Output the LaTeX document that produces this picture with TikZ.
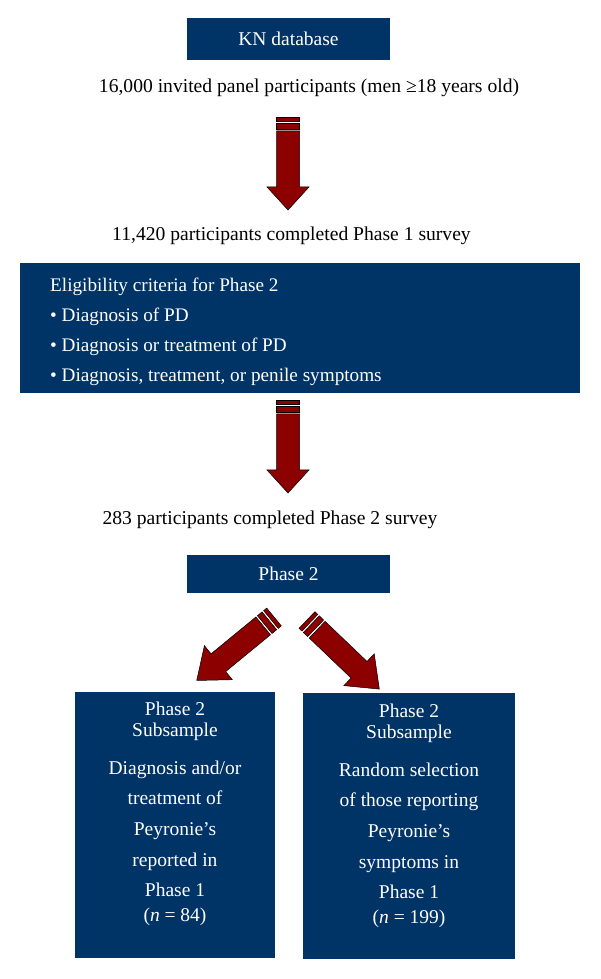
\documentclass[tikz,border=0pt]{standalone}
\usepackage{fontspec}
\setmainfont{Liberation Serif}
\definecolor{navy}{RGB}{0,51,102}
\definecolor{arrowred}{RGB}{140,0,0}
\newcommand\fatarrowpath[3]{%
  \path[arrowbody] (0,-11.5) rectangle (4,11.5);
  \path[arrowbody] (6,-11.5) rectangle (12,11.5);
  \path[arrowbody] (14,-11.5) -- ({#1-#2},-11.5) -- ({#1-#2},-#3) -- (#1,0) -- ({#1-#2},#3) -- ({#1-#2},11.5) -- (14,11.5) -- cycle;}
\tikzset{
  vertarrow/.pic={\fatarrowpath{93}{23}{21}},
  diagarrow/.pic={\fatarrowpath{100}{28}{22}}}
\begin{document}
\begin{tikzpicture}[x=1pt,y=1pt,
  box/.style={fill=navy, text=white, inner sep=0pt, font=\fontsize{19.5}{21}\selectfont},
  boxtext/.style={text=white, inner sep=0pt, align=center, font=\fontsize{19.5}{21}\selectfont},
  plain/.style={inner sep=0pt, font=\fontsize{19.6}{21}\selectfont},
  arrowbody/.style={fill=arrowred, draw=black, line width=0.5pt}]
\useasboundingbox (0,0) rectangle (600,979);
\node[box, minimum width=203, minimum height=42] (kn) at (288.5,940) {KN database};
\node[plain] (t1) at (309,891) {16,000 invited panel participants (men ≥18 years old)};
\pic[rotate=-90] at (288,862) {vertarrow};
\node[plain] (t2) at (291.5,743) {11,420 participants completed Phase 1 survey};
\node[box, minimum width=560, minimum height=130] (elig) at (300,651) {};
\node[boxtext, anchor=west, align=left, font=\fontsize{19.2}{30}\selectfont] (eligt) at (50,647)
  {Eligibility criteria for Phase 2\\
   • Diagnosis of PD\\
   • Diagnosis or treatment of PD\\
   • Diagnosis, treatment, or penile symptoms};
\pic[rotate=-90] at (288,579) {vertarrow};
\node[plain] (t3) at (270,459) {283 participants completed Phase 2 survey};
\node[box, minimum width=203, minimum height=38] (p2) at (288.5,405) {Phase 2};
\pic[rotate=219.4] at (274,362) {diagarrow};
\pic[rotate=-43.7] at (307,359) {diagarrow};
\node[box, minimum width=200, minimum height=266] (lb) at (175,154) {};
\node[boxtext, anchor=north] (lbt) at (175,277)
  {Phase 2\\Subsample\\[17pt]Diagnosis and/or\\[9pt]treatment of\\[10pt]Peyronie’s\\[10pt]reported in\\[9pt]Phase 1\\[4pt](\textit{n} = 84)};
\node[box, minimum width=212, minimum height=266] (rb) at (409,153) {};
\node[boxtext, anchor=north] (rbt) at (409,275)
  {Phase 2\\Subsample\\[17pt]Random selection\\[9pt]of those reporting\\[10pt]Peyronie’s\\[10pt]symptoms in\\[9pt]Phase 1\\[4pt](\textit{n} = 199)};
\end{tikzpicture}
\end{document}
